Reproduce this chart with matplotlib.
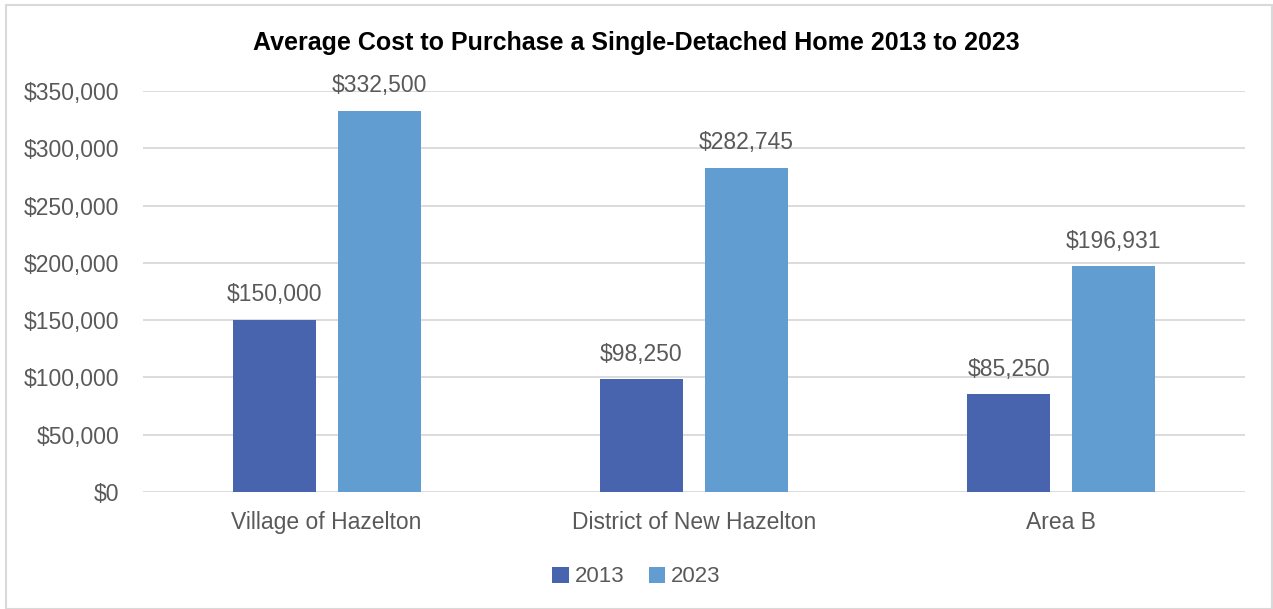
import numpy as np
import matplotlib.pyplot as plt
from matplotlib.patches import Rectangle
from matplotlib.ticker import FuncFormatter

plt.rcParams['font.family'] = ['Liberation Sans', 'DejaVu Sans']

areas = ['Village of Hazelton', 'District of New Hazelton', 'Area B']
years = ['2013', '2023']
cost_2013 = [150000, 98250, 85250]
cost_2023 = [332500, 282745, 196931]

colors = ['#4864AE', '#619DD0']
grey = '#595959'

fig = plt.figure(figsize=(12.73, 6.09), dpi=100)
ax = fig.add_axes([143 / 1273, 1 - 492 / 609, (1245 - 143) / 1273, (492 - 91) / 609])

x = np.arange(len(areas))
w = 0.226
off = 0.143
for vals, col, yr, sgn in zip([cost_2013, cost_2023], colors, years, [-1, 1]):
    bars = ax.bar(x + sgn * off, vals, width=w, color=col, label=yr, zorder=3)
    for b, v in zip(bars, vals):
        ax.text(b.get_x() + b.get_width() / 2, v + 12000, f'${v:,.0f}',
                ha='center', va='bottom', fontsize=16.5, color=grey)

ax.set_xlim(-0.5, 2.5)
ax.set_ylim(0, 350000)
ax.set_yticks(np.arange(0, 350001, 50000))
ax.yaxis.set_major_formatter(FuncFormatter(lambda v, p: f'${v:,.0f}'))
ax.set_xticks(x)
ax.set_xticklabels(areas)
ax.tick_params(axis='both', length=0, labelsize=16.5, labelcolor=grey)
ax.tick_params(axis='x', pad=14)
ax.tick_params(axis='y', pad=17)
ax.grid(axis='y', color='#D9D9D9', linewidth=1.3, zorder=0)
for s in ax.spines.values():
    s.set_visible(False)

fig.text(0.5, 1 - 43 / 609, 'Average Cost to Purchase a Single-Detached Home 2013 to 2023',
         ha='center', va='center', fontsize=18, fontweight='bold', color='black')

fig.legend(loc='center', bbox_to_anchor=(0.5, 1 - 577 / 609), ncol=2, frameon=False,
           fontsize=16, labelcolor=grey, handlelength=0.75, handleheight=0.75,
           handletextpad=0.25, columnspacing=1.1)

fig.patches.append(Rectangle((6 / 1273, 0), 1 - 7 / 1273, 1 - 5 / 609, transform=fig.transFigure,
                             fill=False, edgecolor='#D9D9D9', linewidth=1.5))

fig.savefig('out.png', dpi=100)
